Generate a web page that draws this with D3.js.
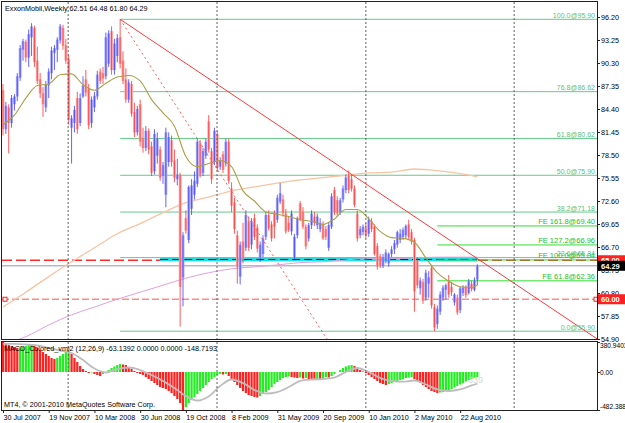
<!DOCTYPE html>
<html>
<head>
<meta charset="utf-8">
<script src="https://cdn.jsdelivr.net/npm/d3@7"></script>
<style>
body { margin: 0; background: #fff; }
svg text { font-family: "Liberation Sans", Arial, sans-serif; }
</style>
</head>
<body>
<div id="vis"></div>
<script>
// weekly bars, 30 Jul 2007 .. Sep 2010
var opens = [86.8, 81.8, 84.6, 82.6, 85.0, 86.0, 88.4, 92.0, 93.0, 91.0,
    93.6, 94.8, 90.6, 88.2, 86.4, 84.6, 87.4, 89.0, 91.6, 92.0,
    93.2, 94.8, 92.6, 90.8, 82.0, 82.6, 85.8, 82.6, 86.0, 88.2,
    87.0, 82.6, 84.6, 86.0, 89.2, 89.0, 88.6, 90.2, 94.4, 89.4,
    91.2, 93.6, 90.6, 88.2, 85.6, 87.6, 84.0, 81.4, 85.0, 80.6,
    79.4, 81.6, 79.6, 76.4, 78.4, 79.2, 75.8, 73.4, 77.6, 80.4,
    77.8, 75.4, 75.8, 62.8, 70.4, 67.6, 71.6, 73.4, 74.8, 80.0,
    76.2, 78.4, 82.8, 79.0, 77.6, 81.2, 77.0, 78.6, 77.4, 80.2,
    74.2, 72.4, 68.2, 62.9, 67.4, 66.6, 70.0, 67.0, 70.4, 69.2,
    65.2, 65.8, 68.0, 70.8, 69.6, 71.0, 70.2, 72.5, 72.8, 71.0,
    69.8, 68.7, 65.4, 68.2, 72.3, 71.2, 69.3, 67.8, 69.5, 70.6,
    69.5, 69.0, 69.6, 69.0, 66.6, 69.3, 74.0, 72.7, 71.2, 72.8,
    74.0, 75.8, 75.4, 74.2, 71.0, 68.2, 68.6, 69.1, 68.4, 70.0,
    69.3, 66.8, 65.5, 64.3, 65.2, 64.6, 65.8, 66.4, 67.0, 67.6,
    68.0, 68.2, 69.6, 68.6, 67.6, 65.0, 61.4, 62.2, 60.2, 62.0,
    64.0, 59.0, 56.8, 58.4, 60.2, 61.2, 62.2, 61.6, 59.6, 60.2,
    58.6, 60.8, 61.6, 60.8, 62.0, 61.2, 62.51];
var highs = [87.6, 85.3, 85.0, 86.2, 86.3, 89.0, 92.6, 93.4, 93.3, 94.6,
    95.4, 95.1, 92.4, 89.0, 87.2, 88.0, 89.6, 92.4, 92.6, 93.6,
    95.3, 95.2, 93.4, 91.4, 83.6, 84.8, 86.6, 86.4, 88.6, 89.4,
    87.6, 86.0, 86.6, 89.3, 89.6, 89.8, 94.2, 94.5, 95.0, 93.4,
    94.0, 95.9, 91.8, 89.6, 88.2, 88.0, 85.2, 84.8, 85.6, 82.0,
    82.2, 81.9, 80.2, 81.8, 81.4, 79.6, 77.6, 82.0, 81.4, 81.0,
    79.2, 78.0, 76.2, 68.6, 71.4, 74.6, 75.4, 76.4, 80.6, 80.4,
    79.4, 80.6, 83.6, 79.4, 82.0, 81.6, 78.2, 79.0, 80.6, 80.6,
    75.0, 73.0, 68.8, 67.4, 69.8, 71.4, 70.6, 70.4, 71.0, 69.6,
    67.4, 68.2, 71.2, 71.4, 70.0, 71.4, 73.4, 74.9, 73.4, 71.6,
    70.6, 71.4, 68.4, 70.6, 72.6, 71.8, 69.6, 69.8, 71.4, 71.2,
    71.0, 70.4, 70.0, 69.4, 69.8, 73.6, 74.4, 73.2, 73.0, 74.6,
    76.0, 76.5, 76.0, 74.6, 71.4, 69.4, 69.6, 69.8, 70.6, 70.4,
    69.6, 67.2, 65.8, 65.8, 66.4, 66.0, 66.8, 67.6, 68.8, 69.0,
    69.2, 69.6, 70.2, 69.0, 67.9, 65.4, 62.8, 62.6, 63.8, 63.6,
    64.4, 59.4, 59.2, 61.0, 61.8, 62.0, 63.1, 62.2, 60.8, 60.6,
    61.6, 61.8, 61.8, 62.6, 62.4, 62.8, 64.48];
var lows = [81.0, 81.2, 78.7, 82.0, 84.2, 85.4, 88.0, 90.6, 90.4, 89.8,
    91.2, 89.8, 87.6, 85.8, 83.4, 84.0, 85.8, 88.2, 89.4, 90.4,
    92.8, 92.0, 90.2, 82.4, 77.4, 81.4, 81.2, 82.2, 85.8, 86.0,
    81.8, 82.0, 84.0, 85.6, 87.6, 87.6, 88.2, 89.8, 88.8, 88.8,
    90.4, 89.6, 87.6, 85.2, 85.2, 83.4, 80.8, 81.0, 79.6, 78.8,
    79.0, 78.6, 75.8, 76.0, 77.4, 75.2, 74.8, 71.8, 77.0, 77.0,
    75.0, 74.6, 56.5, 59.1, 68.4, 67.2, 70.8, 72.8, 74.4, 75.6,
    75.8, 78.0, 78.8, 74.8, 77.2, 76.4, 76.6, 76.2, 77.0, 74.8,
    71.2, 68.4, 62.0, 61.9, 64.6, 66.2, 66.2, 66.4, 67.6, 66.0,
    64.8, 65.4, 67.6, 68.8, 67.4, 67.8, 69.8, 72.2, 70.6, 68.4,
    68.6, 68.2, 65.0, 67.8, 70.0, 69.0, 66.4, 67.4, 69.0, 69.4,
    69.0, 68.6, 67.6, 67.6, 66.2, 69.0, 70.8, 70.6, 70.8, 72.4,
    73.6, 73.6, 73.8, 71.8, 67.4, 67.8, 68.2, 67.8, 68.0, 68.6,
    65.6, 63.8, 64.0, 64.0, 64.6, 64.2, 65.4, 65.8, 66.6, 67.2,
    67.6, 67.8, 67.6, 67.0, 58.4, 61.4, 60.6, 59.4, 59.8, 60.2,
    58.8, 55.9, 56.2, 58.0, 59.8, 60.0, 60.2, 60.4, 59.2, 58.0,
    58.2, 60.4, 60.2, 60.6, 61.0, 61.0, 61.80];
var closes = [81.8, 84.8, 82.6, 85.8, 86.0, 88.6, 92.2, 93.1, 91.0, 94.0,
    95.0, 90.4, 88.0, 86.4, 85.0, 87.6, 89.2, 91.9, 92.2, 93.3,
    95.0, 92.5, 90.6, 83.0, 83.2, 84.3, 81.8, 85.8, 87.4, 86.5,
    82.3, 85.6, 86.1, 88.8, 88.0, 88.3, 93.6, 94.1, 89.4, 92.8,
    93.5, 90.2, 88.0, 85.6, 87.8, 83.8, 81.4, 84.4, 80.2, 79.4,
    81.6, 79.2, 76.2, 81.2, 80.6, 75.6, 77.2, 81.4, 80.8, 77.6,
    75.6, 76.0, 61.6, 68.2, 68.8, 74.4, 74.6, 75.2, 80.2, 76.0,
    79.0, 80.2, 79.2, 75.4, 81.6, 76.8, 77.8, 76.6, 80.2, 75.2,
    72.0, 69.0, 64.2, 67.0, 65.2, 70.8, 66.6, 70.0, 68.0, 66.5,
    67.0, 67.8, 70.8, 69.1, 67.8, 69.3, 73.0, 73.6, 71.0, 68.7,
    68.9, 71.0, 68.0, 70.4, 70.2, 69.3, 66.8, 69.5, 71.0, 69.8,
    70.6, 69.8, 67.8, 68.0, 69.5, 73.2, 71.2, 71.0, 72.7, 74.2,
    75.6, 74.0, 74.2, 72.1, 67.8, 69.0, 69.3, 68.2, 70.2, 69.0,
    65.8, 64.2, 64.4, 65.4, 66.0, 65.8, 66.4, 67.2, 68.6, 68.4,
    68.9, 69.4, 68.0, 67.4, 61.0, 61.8, 62.4, 59.8, 63.4, 62.8,
    59.2, 56.4, 58.8, 60.6, 61.5, 61.8, 60.6, 60.9, 60.6, 58.3,
    61.4, 61.5, 60.5, 62.3, 61.3, 62.5, 64.29];

// moving averages (bar index, price)
var fastMaAt = [0, 4, 8, 12, 16, 20, 24, 28, 32, 36, 40, 44, 48, 52, 56, 60, 64, 68, 72, 76, 80,
    84, 88, 92, 96, 100, 104, 108, 112, 116, 120, 124, 128, 132, 136, 140, 144, 148, 152, 156, 160, 164, 166];
var fastMa = [82.4, 83.6, 85.8, 87.4, 87.6, 88.8, 88.9, 87.5, 86.8, 87.7, 88.5, 88.7, 88.0, 85.6, 83.9, 82.2, 78.3, 77.0, 77.4, 77.8, 77.0,
    73.9, 72.6, 71.2, 70.9, 70.6, 70.2, 70.0, 69.6, 70.3, 71.5, 71.5, 70.3, 68.7, 67.9, 67.8, 67.3, 65.3, 63.4, 62.3, 61.6, 61.5, 61.8];
var slowMaAt = [0, 8, 16, 24, 32, 40, 48, 56, 64, 72, 80, 88, 96, 104, 112, 120, 128, 136, 144, 152, 160, 166];
var slowMa = [59.0, 60.9, 62.9, 64.8, 66.6, 68.4, 69.7, 71.1, 72.4, 73.1, 73.9, 74.4, 74.9, 75.3, 75.6, 75.9, 76.2, 76.3, 76.7, 76.5, 76.1, 75.7];
var longMa = [54.2, 55.2, 56.7, 58.0, 59.0, 60.0, 60.9, 61.8, 62.7, 63.4, 63.9, 64.15, 64.4, 64.7, 64.8, 65.05, 65.2, 65.2, 65.3, 65.4, 65.4, 65.4];

// MACD histogram per bar and its signal line
var macdHist = [380.9, 356, 343, 330, 318, 305,
    311, 318, 330, 343, 349,
    330, 305, 279, 254, 229, 203, 178, 165,
    178, 203, 229, 254, 267,
    229, 178, 127, 76, 38,
    13, -13, -6, -25, -38, -51,
    -25, 0, 25, 51, 70, 89, 102,
    95, 89, 64, 38, 13, -13, -25,
    -38, -64, -89, -114, -140, -165, -191, -203, -216, -241, -267, -305, -343, -394, -482.4,
    -445, -394, -356, -318, -279, -241, -203, -165, -127, -89, -64, -38, -25,
    -32, -25,
    -51, -89, -127, -165, -203, -241, -267, -292, -305, -318, -324,
    -305, -279, -254, -229, -191, -152, -127, -102, -76, -64, -57,
    -64, -70, -76,
    -70, -83, -76, -89,
    -95, -102, -89, -95,
    -76, -64, -70,
    -51, -25, 0, 25, 51, 70, 83, 89,
    76, 51, 25, 6, -13,
    -38, -64, -89, -114, -140, -152, -165,
    -152, -140, -127, -114, -102, -89, -76, -70, -64,
    -89, -114, -140, -165, -191, -216, -241, -254, -267,
    -260, -254, -241, -229, -216, -197, -178, -159, -140, -121, -102, -89, -76, -63.14];
var signal = [356, 356, 349, 337, 305, 273, 241, 152, 44, -6,
    38, 57, 25, -38, -114, -203, -305, -362, -311, -178,
    -95, -140, -229, -273, -254, -191, -114, -95, -89, -70,
    0, 51, 0, -76, -114, -121, -108, -159, -222, -241,
    -222, -171, -148.72];

var dateIdx = [0, 16, 32, 48, 64, 80, 96, 112, 128, 144, 160];
var dateLabels = ["30 Jul 2007", "19 Nov 2007", "10 Mar 2008", "30 Jun 2008", "19 Oct 2008",
    "8 Feb 2009", "31 May 2009", "20 Sep 2009", "10 Jan 2010", "2 May 2010", "22 Aug 2010"];
var yearStarts = [22.8, 74.9, 127.0, 178.9];

var priceTicks = [96.20, 93.25, 90.30, 87.35, 84.40, 81.45, 78.50, 75.55, 72.60, 69.65, 66.70, 63.75, 60.80, 57.85, 54.90];
var macdTicks = [380.9403, 0, -482.388];
var macdTickText = ["380.9403", "0.00", "-482.388"];

var fibPrices = [95.90, 86.62, 80.62, 75.90, 71.18, 65.34, 55.90];
var fibLabels = ["100.0@95.90", "76.8@86.62", "61.8@80.62", "50.0@75.90", "38.2@71.18", "23.6@65.34", "0.0@55.90"];
var fePrices = [69.40, 66.96, 65.04, 62.36];
var feLabels = ["FE 161.8@69.40", "FE 127.2@66.96", "FE 100.0@65.04", "FE 61.8@62.36"];

var trendSolid = [[41, 95.9], [208, 54.9]];
var trendDotted = [[41, 95.9], [113.4, 54.9]];

var width = 625, height = 423;
var pLeft = 2, pRight = 597, pTop = 2, pBottom = 339;
var mTop = 342, mBottom = 410;

var svg = d3.select("#vis").append("svg")
    .attr("width", width)
    .attr("height", height);

var x = d3.scaleLinear().domain([0, 208]).range([3, 597.3]);
var y = d3.scaleLinear().domain([54.9, 98.12]).range([pBottom, pTop]);
var ym = d3.scaleLinear().domain([-482.388, 380.9403]).range([mBottom, mTop]);

var defs = svg.append("defs");
defs.append("clipPath").attr("id", "clipMain")
    .append("rect").attr("x", pLeft).attr("y", pTop).attr("width", pRight - pLeft).attr("height", pBottom - pTop);
defs.append("clipPath").attr("id", "clipMacd")
    .append("rect").attr("x", pLeft).attr("y", mTop).attr("width", pRight - pLeft).attr("height", mBottom - mTop);

var main = svg.append("g").attr("clip-path", "url(#clipMain)");
var macdG = svg.append("g").attr("clip-path", "url(#clipMacd)");

// year separators
yearStarts.forEach(function(d) {
    svg.append("line")
        .attr("x1", x(d)).attr("x2", x(d))
        .attr("y1", pTop).attr("y2", mBottom)
        .attr("stroke", "#606060")
        .attr("stroke-dasharray", "2,2");
});

// horizontal levels
main.append("line")
    .attr("x1", pLeft).attr("x2", pRight)
    .attr("y1", y(60)).attr("y2", y(60))
    .attr("stroke", "#ff8c8c").attr("stroke-width", 1.5)
    .attr("stroke-dasharray", "7,3");
main.append("line")
    .attr("x1", pLeft).attr("x2", pRight)
    .attr("y1", y(64.29)).attr("y2", y(64.29))
    .attr("stroke", "#b8b8cc").attr("stroke-width", 1.5);
main.append("line")
    .attr("x1", pLeft).attr("x2", pRight)
    .attr("y1", y(65)).attr("y2", y(65))
    .attr("stroke", "#ff2a2a").attr("stroke-width", 1.3)
    .attr("stroke-dasharray", "10,4");
main.append("rect")
    .attr("x", x(55)).attr("width", x(166) - x(55))
    .attr("y", y(65.35)).attr("height", y(64.85) - y(65.35))
    .attr("fill", "#22dde8");
main.append("line")
    .attr("x1", x(55)).attr("x2", x(166))
    .attr("y1", y(65.1)).attr("y2", y(65.1))
    .attr("stroke", "#102040").attr("stroke-dasharray", "8,4");

// fibo retracement
fibPrices.forEach(function(p, k) {
    main.append("line")
        .attr("x1", x(41)).attr("x2", pRight)
        .attr("y1", y(p)).attr("y2", y(p))
        .attr("stroke", "#66c98a");
    svg.append("text")
        .attr("x", 595).attr("y", y(p) - 1.5)
        .attr("text-anchor", "end")
        .attr("font-size", 7)
        .attr("fill", "#5cbf7a")
        .text(fibLabels[k]);
});

// fibo expansion
fePrices.forEach(function(p, k) {
    main.append("line")
        .attr("x1", x(152)).attr("x2", pRight)
        .attr("y1", y(p)).attr("y2", y(p))
        .attr("stroke", "#33dd33");
    svg.append("text")
        .attr("x", 595).attr("y", y(p) - 1.5)
        .attr("text-anchor", "end")
        .attr("font-size", 7.5)
        .attr("fill", "#22c022")
        .text(feLabels[k]);
});

// moving averages
var maLine = d3.line()
    .x(function(d) { return x(d[0]); })
    .y(function(d) { return y(d[1]); })
    .curve(d3.curveMonotoneX);

main.append("path")
    .datum(slowMaAt.map(function(d, k) { return [d, slowMa[k]]; }))
    .attr("d", maLine)
    .attr("fill", "none").attr("stroke", "#f7c4a4").attr("stroke-width", 1.3);
main.append("path")
    .datum(slowMaAt.map(function(d, k) { return [d, longMa[k]]; }))
    .attr("d", maLine)
    .attr("fill", "none").attr("stroke", "#e0a2da").attr("stroke-width", 1);

// bars
var bars = closes.map(function(c, i) {
    return {i: i, o: opens[i], h: highs[i], l: lows[i], c: c};
});

var candle = main.selectAll(".bar")
    .data(bars)
    .enter().append("g")
    .attr("class", "bar");

candle.append("rect")
    .attr("x", function(d) { return x(d.i) - 1.4; })
    .attr("width", 2.8)
    .attr("y", function(d) { return y(Math.max(d.o, d.c)); })
    .attr("height", function(d) { return Math.max(1, Math.abs(y(d.o) - y(d.c))); })
    .attr("fill", function(d) { return d.c >= d.o ? "#a8a8fa" : "#ffa8a8"; });

candle.append("line")
    .attr("x1", function(d) { return x(d.i); })
    .attr("x2", function(d) { return x(d.i); })
    .attr("y1", function(d) { return y(d.h); })
    .attr("y2", function(d) { return y(d.l); })
    .attr("stroke", function(d) { return d.c >= d.o ? "#3434ff" : "#ff2828"; })
    .attr("stroke-opacity", 0.85)
    .attr("stroke-width", 0.9);

main.append("path")
    .datum(fastMaAt.map(function(d, k) { return [d, fastMa[k]]; }))
    .attr("d", maLine)
    .attr("fill", "none").attr("stroke", "#ab9f48").attr("stroke-width", 1.1);

// trend lines
var tl = d3.line()
    .x(function(d) { return x(d[0]); })
    .y(function(d) { return y(d[1]); });
main.append("path").datum(trendSolid).attr("d", tl)
    .attr("stroke", "#ff3a3a").attr("fill", "none");
main.append("path").datum(trendDotted).attr("d", tl)
    .attr("stroke", "#ff5a5a").attr("fill", "none").attr("stroke-dasharray", "2,3");

// small markers of the 60.00 level
[pLeft + 3, pRight - 1].forEach(function(px) {
    svg.append("rect")
        .attr("x", px - 2).attr("y", y(60) - 2)
        .attr("width", 4).attr("height", 4)
        .attr("fill", "#fff").attr("stroke", "#ff2020");
});

// MACD
macdG.selectAll(".hist")
    .data(macdHist)
    .enter().append("rect")
    .attr("class", "hist")
    .attr("x", function(d, i) { return x(i) - 1.1; })
    .attr("width", 2.2)
    .attr("y", function(d) { return Math.min(ym(d), ym(0)); })
    .attr("height", function(d) { return Math.abs(ym(d) - ym(0)); })
    .attr("fill", function(d, i) { return i > 0 && d > macdHist[i - 1] ? "#22ee22" : "#ff2020"; });

macdG.append("path")
    .datum(fastMaAt.map(function(d, k) { return [d, signal[k]]; }))
    .attr("d", d3.line()
        .x(function(d) { return x(d[0]); })
        .y(function(d) { return ym(d[1]); })
        .curve(d3.curveMonotoneX))
    .attr("fill", "none").attr("stroke", "#bdbdbd").attr("stroke-width", 1.8);

svg.append("text")
    .attr("x", 468).attr("y", 383)
    .attr("font-size", 9).attr("fill", "#d8d8d8")
    .text("339");

// frames
svg.append("rect")
    .attr("x", pLeft - 0.5).attr("y", pTop - 0.5)
    .attr("width", pRight - pLeft + 1).attr("height", pBottom - pTop + 1)
    .attr("fill", "none").attr("stroke", "#202020");
svg.append("rect")
    .attr("x", pLeft - 0.5).attr("y", mTop - 0.5)
    .attr("width", pRight - pLeft + 1).attr("height", mBottom - mTop + 1)
    .attr("fill", "none").attr("stroke", "#202020");

// axes
var yAxis = svg.append("g")
    .attr("transform", "translate(" + pRight + ",0)")
    .call(d3.axisRight(y).tickValues(priceTicks).tickSize(3).tickFormat(d3.format(".2f")));
var macdAxis = svg.append("g")
    .attr("transform", "translate(" + pRight + ",0)")
    .call(d3.axisRight(ym).tickValues(macdTicks).tickSize(3)
        .tickFormat(function(d, k) { return macdTickText[k]; }));
macdAxis.selectAll("text").attr("dy", function(d, k) {
    return k == 0 ? "0.9em" : (k == 2 ? "-0.2em" : "0.32em");
});
var xAxis = svg.append("g")
    .attr("transform", "translate(0," + mBottom + ")")
    .call(d3.axisBottom(x).tickValues(dateIdx).tickSize(3)
        .tickFormat(function(d, k) { return dateLabels[k]; }));
xAxis.selectAll("text").attr("text-anchor", "start").attr("x", 0).attr("y", 5);

[yAxis, macdAxis, xAxis].forEach(function(g) {
    g.select(".domain").remove();
    g.attr("font-family", "Liberation Sans, Arial, sans-serif").attr("font-size", 7.2);
    g.selectAll("line").attr("stroke", "#202020");
    g.selectAll("text").attr("fill", "#000");
});
yAxis.selectAll("text").attr("x", 4);
macdAxis.selectAll("text").attr("x", 3).attr("font-size", 6.6);

// price boxes on the scale
function priceBox(p, bg, label) {
    svg.append("rect")
        .attr("x", pRight + 1).attr("y", y(p) - 5)
        .attr("width", width - pRight - 1).attr("height", 10)
        .attr("fill", bg);
    svg.append("text")
        .attr("x", pRight + 4).attr("y", y(p) + 3)
        .attr("font-size", 7.5).attr("font-weight", "bold")
        .attr("fill", "#fff")
        .text(label);
}
priceBox(65, "#ff2020", "65.00");
priceBox(64.29, "#000", "64.29");
priceBox(60, "#ff2020", "60.00");

// titles
svg.append("text")
    .attr("x", 5).attr("y", 11)
    .attr("font-size", 7.2)
    .text("ExxonMobil,Weekly  62.51 64.48 61.80 64.29");
svg.append("text")
    .attr("x", 4).attr("y", mTop + 9)
    .attr("font-size", 7.2)
    .text("MACD_Colored_vmi2 (12,26,9) -63.1392 0.0000 0.0000 -148.7193");
svg.append("text")
    .attr("x", 4).attr("y", mBottom - 3)
    .attr("font-size", 7.2)
    .text("MT4, \u00a9 2001-2010 MetaQuotes Software Corp.");
</script>
</body>
</html>
